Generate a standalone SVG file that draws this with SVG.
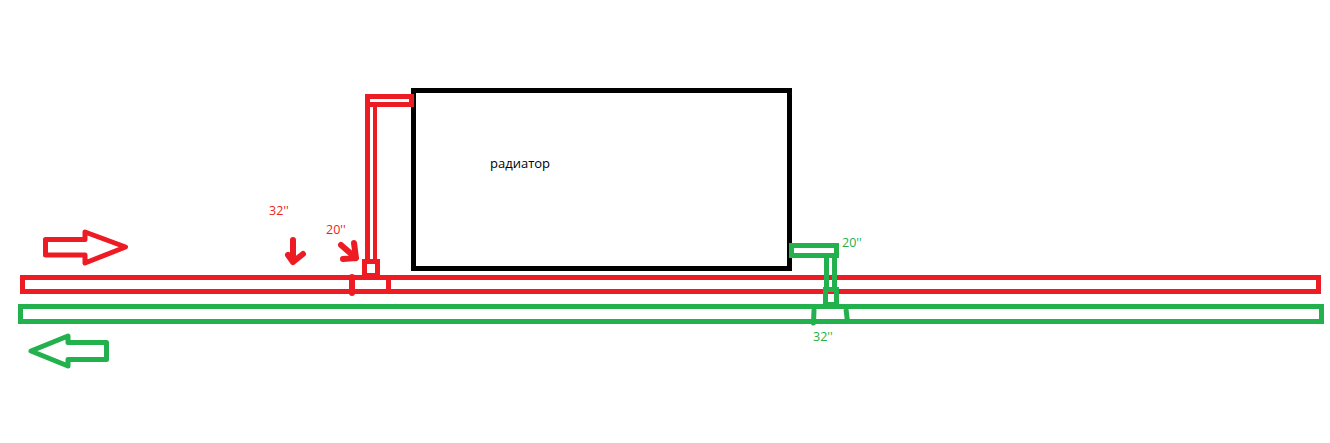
<svg xmlns="http://www.w3.org/2000/svg" width="1330" height="443" viewBox="0 0 1330 443">
<style>
.r{fill:none;stroke:#ed1c24;stroke-width:5}
.g{fill:none;stroke:#22b14c;stroke-width:5}
.k{fill:none;stroke:#000;stroke-width:5}
.a{stroke-width:6;stroke-linecap:round;stroke-linejoin:round}
text{font-family:"Open Sans","Liberation Sans",sans-serif;font-size:12.500px}
.tr{fill:#ed1c24}
.tg{fill:#22b14c}
</style>
<rect width="1330" height="443" fill="#fff"/>
<g id="radiator">
<rect class="k" x="413.500" y="90.500" width="376" height="178"/>
<text x="490" y="168" fill="#000" style="font-size:13px">радиатор</text>
</g>
<g id="supply-pipe">
<rect class="r" x="22.500" y="277.500" width="1296" height="14"/>
<path class="r" d="M352 277V293" stroke-linecap="round" style="stroke-width:6"/>
<path class="r" d="M388.500 277V292"/>
</g>
<g id="return-pipe">
<rect class="g" x="20.500" y="306.500" width="1301" height="15"/>
<path class="g" d="M814 310L813.500 323" stroke-linecap="round"/>
<path class="g" d="M846 309L847.500 322"/>
</g>
<g id="red-riser">
<path class="r" d="M367.500 105V260"/>
<path class="r" d="M375 105V260" style="stroke-width:4"/>
<rect class="r" x="367.500" y="96.500" width="44" height="8"/>
<rect class="r" x="364.500" y="261.500" width="13" height="14"/>
</g>
<g id="green-riser">
<path class="g" d="M826.500 257V288"/>
<path class="g" d="M834.500 257V288"/>
<rect class="g" x="791.500" y="245.500" width="45" height="10"/>
<rect class="g" x="825.500" y="289.500" width="11" height="15"/>
</g>
<g id="connectors">
<polygon class="r" stroke-linejoin="round" points="45.500,239.500 85,239.500 85,232 125.500,247 85,263 85,255 45.500,255"/>
<polygon class="g" stroke-linejoin="round" points="31,351 68,336 68,342.500 106.500,342.500 106.500,359.500 68,359.500 68,366"/>
<path class="r a" d="M293 240V262M288 255L293 262L303 254"/>
<path class="r a" d="M341 245L356 258M354 243L356 258L343 259"/>
</g>
<g id="labels">
<text class="tr" x="269" y="215">32''</text>
<text class="tr" x="326" y="234">20''</text>
<text class="tg" x="842" y="247">20''</text>
<text class="tg" x="813" y="341">32''</text>
</g>
</svg>
